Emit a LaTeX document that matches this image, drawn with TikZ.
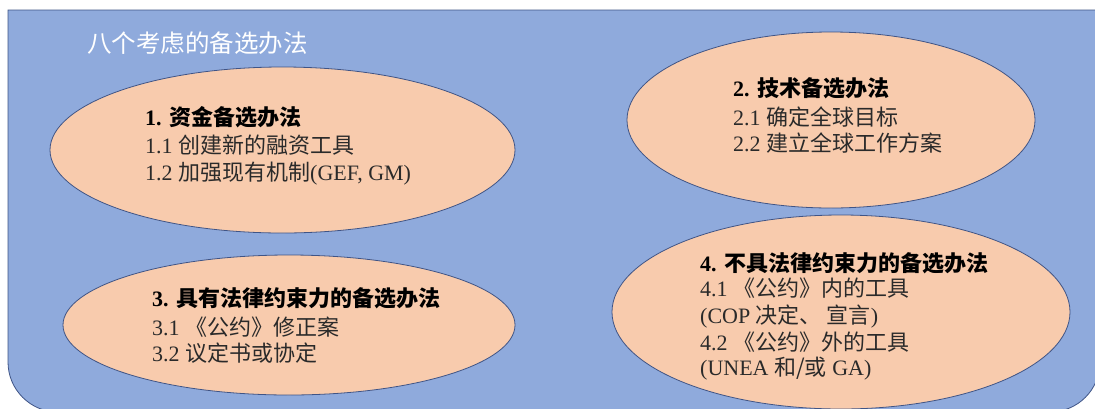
\documentclass[tikz,border=0pt]{standalone}
\usepackage{fontspec}
\setmainfont{Liberation Serif}
\newfontfamily\cjk{Noto Sans CJK SC}
\usetikzlibrary{shapes.geometric}
\definecolor{bgblue}{HTML}{8FAADC}
\definecolor{edgeblue}{HTML}{3F5486}
\definecolor{peach}{HTML}{F8CBAD}
\definecolor{txt}{HTML}{2A2A2A}
\tikzset{
  oval/.style={ellipse, draw=edgeblue, line width=0.8pt, fill=peach, inner sep=0pt},
  ln/.style={anchor=base west, inner sep=0pt, text=txt, font=\fontsize{22}{26}\selectfont},
  hd/.style={anchor=base west, inner sep=0pt, text=black, font=\fontsize{22}{26}\selectfont\bfseries},
  ttl/.style={anchor=base west, inner sep=0pt, text=white, font=\fontsize{24.5}{28}\selectfont\cjk}
}
\begin{document}
\begin{tikzpicture}[x=1pt, y=-1pt]
\useasboundingbox (0,0) rectangle (1095,408);
% background panel
\draw[fill=bgblue, draw=edgeblue, line width=0.8pt]
  (1100,10) -- (8,10) -- (8,362)
  .. controls (8,389.6) and (30.4,412) .. (58,412)
  -- (1050,412)
  .. controls (1077.6,412) and (1100,389.6) .. (1100,362) -- cycle;
\node[ttl] (title) at (87,52) {八个考虑的备选办法};
% ellipses
\node[oval, minimum width=465pt, minimum height=166pt] (e1) at (282.5,150) {};
\node[oval, minimum width=408pt, minimum height=176pt] (e2) at (831,120) {};
\node[oval, minimum width=452pt, minimum height=140pt] (e3) at (289,325) {};
\node[oval, minimum width=458pt, minimum height=194pt] (e4) at (841,312) {};
% ellipse 1 text
\node[hd] (t11) at (145,125) {1. {\cjk 资金备选办法}};
\node[ln] (t12) at (145,153) {1.1 {\cjk 创建新的融资工具}};
\node[ln] (t13) at (145,180) {1.2 {\cjk 加强现有机制}(GEF, GM)};
% ellipse 2 text
\node[hd] (t21) at (733,96) {2. {\cjk 技术备选办法}};
\node[ln] (t22) at (733,125) {2.1 {\cjk 确定全球目标}};
\node[ln] (t23) at (733,151) {2.2 {\cjk 建立全球工作方案}};
% ellipse 3 text
\node[hd] (t31) at (152,306) {3. {\cjk 具有法律约束力的备选办法}};
\node[ln] (t32) at (152,335) {3.1 {\cjk 《公约》修正案}};
\node[ln] (t33) at (152,361) {3.2 {\cjk 议定书或协定}};
% ellipse 4 text
\node[hd] (t41) at (700,271) {4. {\cjk 不具法律约束力的备选办法}};
\node[ln] (t42) at (700,296) {4.1 {\cjk 《公约》内的工具}};
\node[ln] (t43) at (700,323) {(COP {\cjk 决定、 宣言})};
\node[ln] (t44) at (700,350) {4.2 {\cjk 《公约》外的工具}};
\node[ln] (t45) at (700,375) {(UNEA {\cjk 和/或} GA)};
\end{tikzpicture}
\end{document}
